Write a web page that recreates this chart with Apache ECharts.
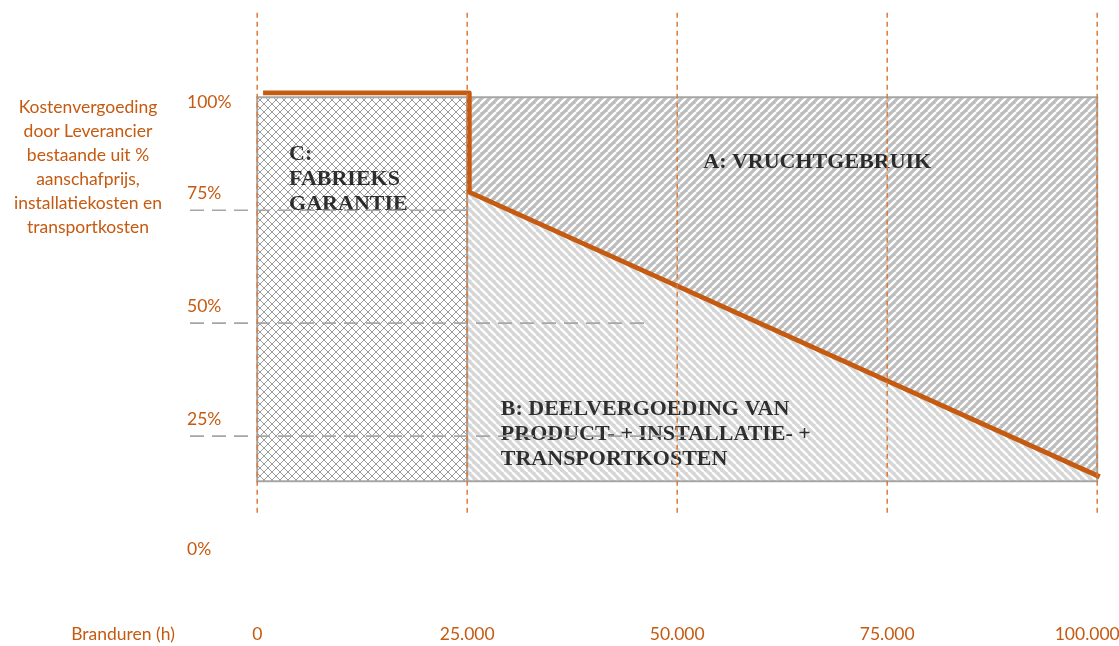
<!DOCTYPE html>
<html><head><meta charset="utf-8">
<script src="https://cdn.jsdelivr.net/npm/echarts@6/dist/echarts.min.js"></script>
<style>html,body{margin:0;padding:0;background:#fff}#c{width:1119px;height:646px}</style>
</head><body><div id="c"></div>
<script>
// ---- data ----
const xTicks = [0, 25000, 50000, 75000, 100000];
const xTickLabels = ['0', '25.000', '50.000', '75.000', '100.000'];
const yTicks = [0, 25, 50, 75, 100];
const yTickLabels = ['0%', '25%', '50%', '75%', '100%'];
const xAxisTitle = 'Branduren (h)';
const yAxisTitle = ['Kostenvergoeding', 'door Leverancier', 'bestaande uit %', 'aanschafprijs,', 'installatiekosten en', 'transportkosten'];
// orange reimbursement line (hours, %)
const reimbHours = [700, 25250, 25250, 100300];
const reimbPct = [101, 101, 79, 16];
// regions (hours, %)
const regionC = [[0, 15], [25000, 15], [25000, 100], [0, 100]];
const regionA = [[25000, 100], [100000, 100], [100000, 16.2], [25000, 79]];
const regionB = [[25000, 15], [100000, 15], [100000, 16.2], [25000, 79]];
// gray dashed reference levels
const refLevels = [75, 50, 25];
const refStart = -8000;
const refEnds = [25000, 47000, 51500];
// orange vertical guide lines
const guideX = [0, 25000, 50000, 75000, 100000];
const guideRange = [8, 119];
// region captions [hours, %] anchor (top-left)
const captionText = ['C:\nFABRIEKS\nGARANTIE', 'A: VRUCHTGEBRUIK', 'B: DEELVERGOEDING VAN\nPRODUCT- + INSTALLATIE- +\nTRANSPORTKOSTEN'];
const captionPos = [[3800, 90.2], [53100, 88.4], [29000, 33.6]];

// ---- styling ----
const ORANGE = '#C55A11';
const GUIDE = '#DB7B3A';
const GRAY = '#A6A6A6';
const sansFont = 'Lato';
const sansSize = 17.5;

function stripes(bg, line, dir, s, w) {
  const c = document.createElement('canvas'); c.width = c.height = s;
  const g = c.getContext('2d'); g.fillStyle = bg; g.fillRect(0, 0, s, s);
  g.strokeStyle = line; g.lineWidth = w;
  const dirs = dir === 'x' ? ['/', '\\'] : [dir];
  for (const d of dirs) for (const k of [-1, 0, 1]) {
    g.beginPath();
    if (d === '/') { g.moveTo(k * s, s); g.lineTo(k * s + s, 0); }
    else { g.moveTo(k * s, 0); g.lineTo(k * s + s, s); }
    g.stroke();
  }
  return c;
}
const patA = { image: stripes('#BDBDBD', '#FFFFFF', '/', 8, 2.3), repeat: 'repeat' };
const patB = { image: stripes('#D6D6D6', '#FFFFFF', '\\', 8, 2.3), repeat: 'repeat' };
const patC = { image: stripes('#FFFFFF', '#9A9A9A', 'x', 8, 1), repeat: 'repeat' };

function polySeries(points, fill) {
  return {
    type: 'custom', coordinateSystem: 'cartesian2d', silent: true, z: 1,
    data: [[0, 0]],
    renderItem: (params, api) => ({
      type: 'polygon',
      shape: { points: points.map(p => api.coord(p)) },
      style: { fill: fill, stroke: GRAY, lineWidth: 2 }
    })
  };
}

const series = [
  polySeries(regionC, patC),
  polySeries(regionA, patA),
  polySeries(regionB, patB)
];
refLevels.forEach((lv, i) => series.push({
  type: 'line', silent: true, z: 6, symbol: 'none',
  data: [[refStart, lv], [refEnds[i], lv]],
  lineStyle: { color: GRAY, width: 1.6, type: [14, 8] }
}));
series.push({
  type: 'scatter', silent: true, z: 5, symbolSize: 0,
  data: captionText.map((t, i) => ({ name: t, value: captionPos[i] })),
  label: {
    show: true, position: 'inside', align: 'left', verticalAlign: 'top',
    formatter: p => p.name,
    fontFamily: 'Liberation Serif', fontWeight: 'bold', fontSize: 22, lineHeight: 25, color: '#000'
  }
});
series.push({
  type: 'line', silent: true, z: 7, symbol: 'none',
  data: reimbHours.map((h, i) => [h, reimbPct[i]]),
  lineStyle: { color: ORANGE, width: 4.8, join: 'round' }
});
guideX.forEach(x => series.push({
  type: 'line', silent: true, z: 8, symbol: 'none',
  data: [[x, guideRange[0]], [x, guideRange[1]]],
  lineStyle: { color: GUIDE, width: 1.5, type: [5, 4] }
}));

const yRich = { 0: 'z', 25: 'u', 50: 'u', 75: 'u', 100: 'd' };
const option = {
  animation: false,
  grid: { left: 190, right: 5, top: 7, bottom: 97, outerBoundsMode: 'none', containLabel: false },
  xAxis: {
    type: 'value', min: -8000, max: 102000,
    axisLine: { show: false }, axisTick: { show: false }, splitLine: { show: false },
    axisLabel: {
      customValues: xTicks, margin: 76, color: ORANGE, fontFamily: sansFont, fontSize: sansSize,
      formatter: v => {
        const t = xTickLabels[xTicks.indexOf(v)];
        return v === xTicks[xTicks.length - 1] ? '{l|' + t + '}' : '{n|' + t + '}';
      },
      rich: {
        n: { color: ORANGE, fontFamily: sansFont, fontSize: sansSize },
        l: { color: ORANGE, fontFamily: sansFont, fontSize: sansSize, padding: [0, 20, 0, 0] }
      }
    }
  },
  yAxis: {
    type: 'value', min: 0, max: 120,
    axisLine: { show: false }, axisTick: { show: false }, splitLine: { show: false },
    axisLabel: {
      customValues: yTicks, inside: true, margin: -3, color: ORANGE, fontFamily: sansFont, fontSize: sansSize,
      formatter: v => '{' + yRich[v] + '|' + yTickLabels[yTicks.indexOf(v)] + '}',
      rich: {
        z: { color: ORANGE, fontFamily: sansFont, fontSize: sansSize },
        u: { color: ORANGE, fontFamily: sansFont, fontSize: sansSize, padding: [0, 0, 34, 0] },
        d: { color: ORANGE, fontFamily: sansFont, fontSize: sansSize, padding: [10, 0, 0, 0] }
      }
    }
  },
  graphic: [
    { type: 'text', x: 88, y: 95, silent: true,
      style: { text: yAxisTitle.join('\n'), fill: ORANGE, font: sansSize + 'px ' + sansFont, align: 'center', verticalAlign: 'top', lineHeight: 24 } },
    { type: 'text', x: 123, y: 634, silent: true,
      style: { text: xAxisTitle, fill: ORANGE, font: sansSize + 'px ' + sansFont, align: 'center', verticalAlign: 'middle' } }
  ],
  series: series
};
const chart = echarts.init(document.getElementById('c'), null, { renderer: 'canvas' });
chart.setOption(option);
</script></body></html>
